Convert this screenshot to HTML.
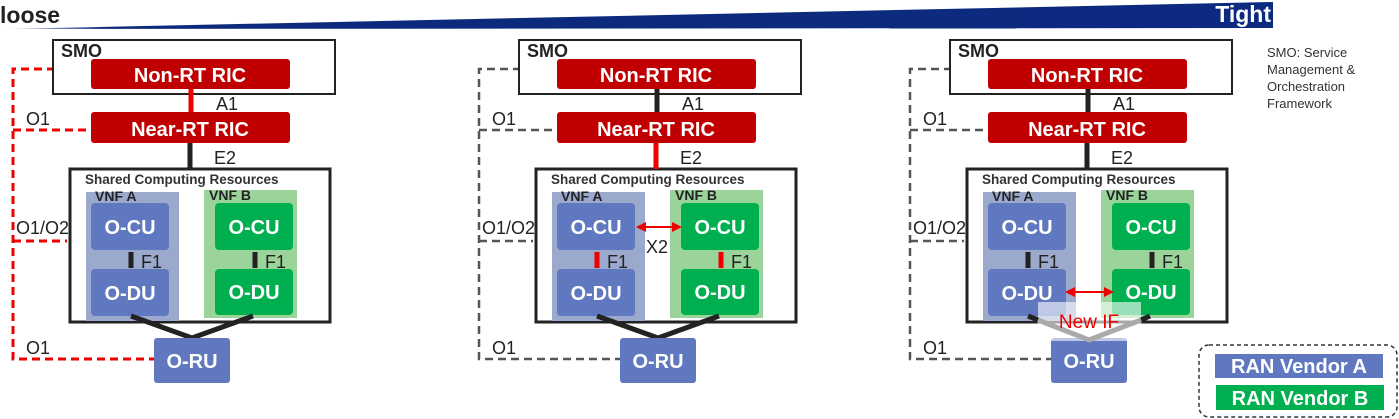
<!DOCTYPE html>
<html><head><meta charset="utf-8"><style>
html,body{margin:0;padding:0;background:#fff;}
svg{display:block;font-family:"Liberation Sans",sans-serif;}
.w{fill:#fff;font-weight:bold;font-size:20px;text-anchor:middle;}
.t{fill:#222;font-size:18px;}
</style></head><body>
<svg width="1399" height="419" viewBox="0 0 1399 419" xmlns="http://www.w3.org/2000/svg">
<defs>
<linearGradient id="g" x1="0" x2="1" y1="0" y2="0">
<stop offset="0" stop-color="#c8d0e6"/><stop offset="0.08" stop-color="#0d2a7a"/><stop offset="1" stop-color="#0b2a80"/>
</linearGradient>
<g id="core">
<rect x="53" y="40" width="282" height="54" fill="#fff" stroke="#222" stroke-width="2"/>
<text x="61" y="57" font-weight="bold" font-size="18" fill="#222">SMO</text>
<rect x="91" y="59" width="199" height="30" rx="3" fill="#c00000"/>
<text x="190" y="82" class="w">Non-RT RIC</text>
<rect x="91" y="112" width="199" height="31" rx="3" fill="#c00000"/>
<text x="190" y="136" class="w">Near-RT RIC</text>
<text x="216" y="110" class="t">A1</text>
<text x="214" y="164" class="t">E2</text>
<rect x="70" y="169" width="260" height="153" fill="#fff" stroke="#222" stroke-width="3"/>
<text x="85" y="184" font-weight="bold" font-size="13.5" fill="#333">Shared Computing Resources</text>
<rect x="86" y="192" width="93" height="129" fill="#9aa9cc"/>
<rect x="204" y="190" width="93" height="128" fill="#9bd49a"/>
<text x="95" y="201" font-weight="bold" font-size="14" fill="#222">VNF A</text>
<text x="209" y="200" font-weight="bold" font-size="14" fill="#222">VNF B</text>
<rect x="91" y="203" width="78" height="47" rx="4" fill="#6078bf"/>
<text x="130" y="234" class="w">O-CU</text>
<rect x="91" y="269" width="78" height="47" rx="4" fill="#6078bf"/>
<text x="130" y="300" class="w">O-DU</text>
<rect x="215" y="203" width="78" height="47" rx="4" fill="#00b050"/>
<text x="254" y="234" class="w">O-CU</text>
<rect x="215" y="269" width="78" height="46" rx="4" fill="#00b050"/>
<text x="254" y="299" class="w">O-DU</text>
<text x="141" y="268" class="t">F1</text>
<text x="265" y="268" class="t">F1</text>
<text x="26" y="125" class="t">O1</text>
<text x="16" y="234" class="t">O1/O2</text>
<text x="26" y="354" class="t">O1</text>
</g>
</defs>

<polygon points="5,29 1273,2 1273,28" fill="url(#g)"/>
<text x="0" y="23" font-weight="bold" font-size="23" fill="#222">loose</text>
<text x="1271" y="22" font-weight="bold" font-size="23" fill="#fff" text-anchor="end">Tight</text>

<g>
<path d="M55,69 H13 V359 H154 M13,130 H91 M13,241 H67" fill="none" stroke="#e00" stroke-width="3" stroke-dasharray="8,5"/>
<use href="#core"/>
<line x1="191" y1="89" x2="191" y2="112" stroke="#e00" stroke-width="5"/>
<line x1="190" y1="143" x2="190" y2="169" stroke="#222" stroke-width="5"/>
<line x1="131" y1="252" x2="131" y2="268" stroke="#222" stroke-width="5"/>
<line x1="255" y1="252" x2="255" y2="268" stroke="#222" stroke-width="5"/>
<polyline points="131,316 192,338 253,316" fill="none" stroke="#222" stroke-width="5"/>
<rect x="154" y="338" width="76" height="45" rx="3" fill="#6078bf"/>
<text x="192" y="368" class="w">O-RU</text>
</g>

<g transform="translate(466,0)">
<path d="M55,69 H13 V359 H154 M13,130 H91 M13,241 H67" fill="none" stroke="#555" stroke-width="2.5" stroke-dasharray="8,5"/>
<use href="#core"/>
<line x1="191" y1="89" x2="191" y2="112" stroke="#222" stroke-width="5"/>
<line x1="190" y1="143" x2="190" y2="169" stroke="#e00" stroke-width="5"/>
<line x1="131" y1="252" x2="131" y2="268" stroke="#e00" stroke-width="5"/>
<line x1="255" y1="252" x2="255" y2="268" stroke="#e00" stroke-width="5"/>
<line x1="178" y1="227" x2="208" y2="227" stroke="#e00" stroke-width="2"/>
<polygon points="170,227 180,222 180,232" fill="#e00"/>
<polygon points="216,227 206,222 206,232" fill="#e00"/>
<text x="180" y="253" class="t">X2</text>
<polyline points="131,316 192,338 253,316" fill="none" stroke="#222" stroke-width="5"/>
<rect x="154" y="338" width="76" height="45" rx="3" fill="#6078bf"/>
<text x="192" y="368" class="w">O-RU</text>
</g>

<g transform="translate(897,0)">
<path d="M55,69 H13 V359 H154 M13,130 H91 M13,241 H67" fill="none" stroke="#555" stroke-width="2.5" stroke-dasharray="8,5"/>
<use href="#core"/>
<line x1="191" y1="89" x2="191" y2="112" stroke="#222" stroke-width="5"/>
<line x1="190" y1="143" x2="190" y2="169" stroke="#222" stroke-width="5"/>
<line x1="131" y1="252" x2="131" y2="268" stroke="#222" stroke-width="5"/>
<line x1="255" y1="252" x2="255" y2="268" stroke="#222" stroke-width="5"/>
<line x1="176" y1="292" x2="209" y2="292" stroke="#e00" stroke-width="2"/>
<polygon points="168,292 178,287 178,297" fill="#e00"/>
<polygon points="217,292 207,287 207,297" fill="#e00"/>
<rect x="154" y="338" width="76" height="45" rx="3" fill="#6078bf"/>
<text x="192" y="368" class="w">O-RU</text>
<rect x="141" y="302" width="103" height="39" fill="#fff" fill-opacity="0.6"/>
<polyline points="131,316 141,320" fill="none" stroke="#222" stroke-width="5"/>
<polyline points="244,320 253,316" fill="none" stroke="#222" stroke-width="5"/>
<polyline points="141,320 192,340 244,320" fill="none" stroke="#aaa" stroke-width="5"/>
<text x="192" y="328" fill="#e00" font-size="19" text-anchor="middle">New IF</text>
</g>

<text font-size="13" fill="#333"><tspan x="1267" y="57">SMO: Service</tspan><tspan x="1267" y="74">Management &amp;</tspan><tspan x="1267" y="91">Orchestration</tspan><tspan x="1267" y="108">Framework</tspan></text>

<rect x="1199" y="345" width="198" height="72" rx="10" fill="#fff" stroke="#333" stroke-width="1.5" stroke-dasharray="4,3"/>
<rect x="1215" y="354" width="168" height="24" fill="#6078bf"/>
<text x="1299" y="373" class="w">RAN Vendor A</text>
<rect x="1216" y="385" width="168" height="25" fill="#00b050"/>
<text x="1300" y="405" class="w">RAN Vendor B</text>
</svg>
</body></html>
